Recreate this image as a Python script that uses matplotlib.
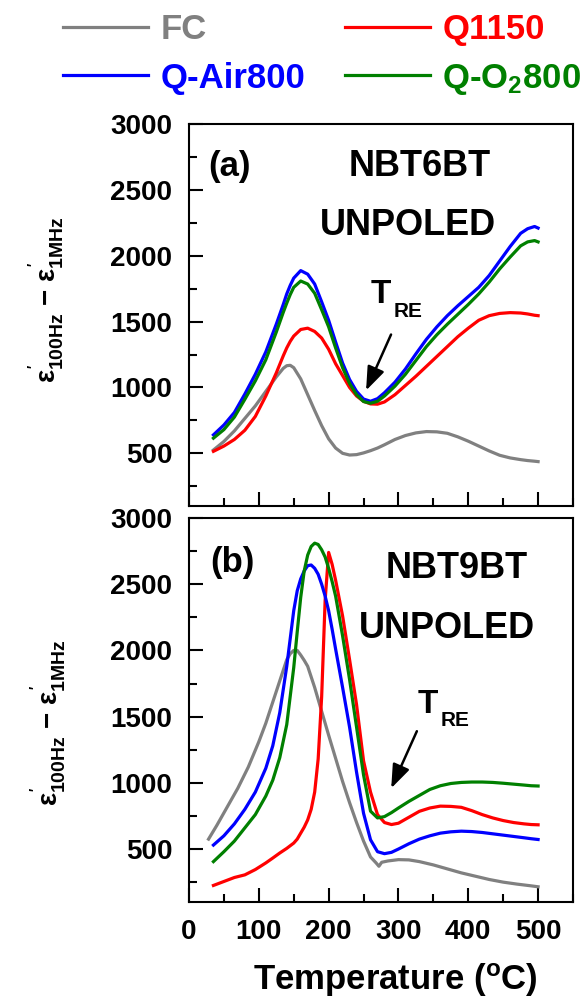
import matplotlib
matplotlib.use("Agg")
import matplotlib.pyplot as plt
from matplotlib.ticker import MultipleLocator

# (a) NBT6BT unpoled
temp_a = [35, 50, 65, 80, 95, 110, 125, 135, 140, 145, 150, 160, 170, 180, 190, 200,
          210, 220, 230, 240, 250, 260, 270, 280, 295, 310, 325, 340, 355, 370, 385,
          400, 415, 430, 445, 460, 475, 485, 495, 500]
fc_a = [525, 590, 670, 765, 860, 970, 1080, 1145, 1165, 1168, 1150, 1065, 945, 825, 710, 610,
        540, 500, 487, 490, 503, 520, 540, 565, 605, 635, 655, 665, 663, 652, 625,
        592, 555, 518, 485, 465, 452, 445, 440, 437]
q1150_a = [515, 555, 605, 675, 780, 935, 1110, 1240, 1300, 1350, 1390, 1440, 1450, 1425, 1375, 1290,
           1180, 1090, 1000, 935, 895, 875, 873, 890, 945, 1015, 1085, 1160, 1235, 1310, 1385,
           1450, 1510, 1545, 1562, 1568, 1565, 1558, 1548, 1545]
air_a = [640, 715, 810, 950, 1100, 1270, 1480, 1630, 1710, 1775, 1830, 1887, 1860, 1785, 1650, 1510,
         1345, 1185, 1060, 970, 912, 895, 915, 960, 1040, 1140, 1255, 1365, 1460, 1545, 1620,
         1690, 1760, 1850, 1960, 2070, 2170, 2205, 2222, 2210]
o2_a = [615, 680, 775, 910, 1050, 1210, 1420, 1570, 1640, 1705, 1760, 1808, 1785, 1715, 1590, 1460,
        1300, 1150, 1030, 945, 893, 880, 895, 935, 1010, 1100, 1205, 1310, 1400, 1480, 1555,
        1630, 1710, 1800, 1900, 1990, 2075, 2105, 2115, 2105]

# (b) NBT9BT unpoled
temp_fc_b = [28, 40, 55, 70, 85, 100, 110, 120, 130, 140, 145, 150, 155, 160, 165, 170, 180,
             190, 200, 210, 220, 230, 240, 250, 260, 268, 272, 276, 285, 300, 315, 330, 350,
             370, 390, 410, 430, 450, 470, 490, 500]
fc_b = [575, 680, 820, 960, 1120, 1310, 1450, 1610, 1770, 1930, 1975, 2000, 2000, 1965, 1925, 1880, 1720,
        1540, 1360, 1185, 1010, 850, 700, 560, 440, 395, 370, 400, 410, 420, 418, 405, 380,
        350, 320, 295, 270, 250, 235, 222, 215]
temp_b = [35, 50, 65, 80, 95, 110, 120, 130, 140, 150, 155, 160, 165, 170, 175, 180, 185, 190,
          195, 200, 205, 210, 220, 230, 240, 250, 260, 270, 280, 290, 300, 315, 330, 345, 360,
          375, 390, 405, 420, 435, 450, 465, 480, 490, 500]
q1150_b = [225, 255, 285, 305, 345, 395, 432, 470, 505, 545, 575, 620, 665, 720, 800, 930, 1180, 1650,
           2380, 2740, 2650, 2530, 2260, 1930, 1590, 1166, 930, 760, 700, 685, 695, 740, 785, 810, 824,
           822, 815, 790, 760, 735, 715, 700, 690, 685, 683]
air_b = [530, 600, 690, 800, 930, 1110, 1280, 1530, 1880, 2300, 2450, 2540, 2600, 2640, 2645, 2620, 2575, 2500,
         2410, 2300, 2160, 2010, 1720, 1420, 1080, 770, 570, 480, 465, 475, 500, 540, 575, 600, 620,
         630, 635, 632, 625, 615, 605, 595, 585, 578, 572]
o2_b = [405, 480, 560, 660, 760, 900, 1020, 1190, 1440, 1870, 2140, 2400, 2600, 2720, 2785, 2810, 2800, 2760,
        2705, 2620, 2520, 2410, 2110, 1780, 1420, 1060, 786, 735, 745, 775, 810, 860, 905, 950, 978,
        995, 1003, 1006, 1006, 1003, 997, 990, 983, 978, 976]

labels = ["FC", "Q1150", "Q-Air800", r"Q-O$_\mathbf{2}$800"]
colors = ["#808080", "#ff0000", "#0000ff", "#008000"]

plt.rcParams["font.family"] = "Liberation Sans"
plt.rcParams["font.weight"] = "bold"
plt.rcParams["mathtext.fontset"] = "custom"
plt.rcParams["mathtext.rm"] = "Liberation Sans"
plt.rcParams["mathtext.it"] = "Liberation Sans"
plt.rcParams["mathtext.bf"] = "Liberation Sans:bold"

fig = plt.figure(figsize=(5.82, 10.02), dpi=100)
ax1 = fig.add_axes([189 / 582, 1 - 506 / 1002, 384 / 582, 382 / 1002])
ax2 = fig.add_axes([189 / 582, 1 - 902 / 1002, 384 / 582, 384 / 1002])

lw = 2.3
lines = []
lines.append(ax1.plot(temp_a, fc_a, color=colors[0], lw=lw)[0])
lines.append(ax1.plot(temp_a, q1150_a, color=colors[1], lw=lw)[0])
lines.append(ax1.plot(temp_a, air_a, color=colors[2], lw=lw)[0])
lines.append(ax1.plot(temp_a, o2_a, color=colors[3], lw=lw)[0])

ax2.plot(temp_fc_b, fc_b, color=colors[0], lw=lw)
ax2.plot(temp_b, q1150_b, color=colors[1], lw=lw)
ax2.plot(temp_b, air_b, color=colors[2], lw=lw)
ax2.plot(temp_b, o2_b, color=colors[3], lw=lw)

for ax in (ax1, ax2):
    ax.set_xlim(0, 550)
    ax.set_ylim(100, 3000)
    ax.xaxis.set_major_locator(MultipleLocator(100))
    ax.xaxis.set_minor_locator(MultipleLocator(50))
    ax.yaxis.set_major_locator(MultipleLocator(500))
    ax.yaxis.set_minor_locator(MultipleLocator(250))
    ax.tick_params(which="both", direction="in", width=1.5, top=False, right=False)
    ax.tick_params(which="major", length=10, labelsize=20, pad=12)
    ax.tick_params(which="minor", length=5.5)
    for s in ax.spines.values():
        s.set_linewidth(1.5)
    for lab in ax.get_yticklabels() + ax.get_xticklabels():
        lab.set_fontweight("bold")
    ax.set_yticks([500, 1000, 1500, 2000, 2500, 3000])

ax1.tick_params(labelbottom=False)

ylab = r"$\varepsilon^{'}_{\mathbf{100Hz}}$ $\mathbf{-}$ $\varepsilon^{'}_{\mathbf{1MHz}}$"
fig.text(47 / 582, 1 - 300 / 1002, ylab, rotation=90, ha="center", va="center", fontsize=20)
fig.text(49 / 582, 1 - 723 / 1002, ylab, rotation=90, ha="center", va="center", fontsize=20)

ax2.set_xlabel(r"Temperature ($^\mathbf{o}$C)", fontsize=25, fontweight="bold")
ax2.xaxis.set_label_coords((395 - 189) / 384, (902 - 980) / 384)
ax2.xaxis.label.set_va("center")

# panel annotations
ax1.text(58, 2674, "(a)", fontsize=25, ha="center", va="center")
ax1.text(331, 2674, "NBT6BT", fontsize=26, ha="center", va="center")
ax1.text(314, 2233, "UNPOLED", fontsize=26, ha="center", va="center")
ax1.text(260, 1641, "T", fontsize=24, ha="left", va="baseline")
ax1.text(293, 1535, "RE", fontsize=15, ha="left", va="baseline")
ax1.annotate("", xy=(252, 958), xytext=(291, 1421),
             arrowprops=dict(arrowstyle="-|>,head_length=0.8,head_width=0.3",
                             color="black", lw=1.8, mutation_scale=18))

ax2.text(62, 2667, "(b)", fontsize=25, ha="center", va="center")
ax2.text(384, 2621, "NBT9BT", fontsize=26, ha="center", va="center")
ax2.text(370, 2167, "UNPOLED", fontsize=26, ha="center", va="center")
ax2.text(328, 1530, "T", fontsize=24, ha="left", va="baseline")
ax2.text(360, 1432, "RE", fontsize=15, ha="left", va="baseline")
ax2.annotate("", xy=(288, 940), xytext=(328, 1409),
             arrowprops=dict(arrowstyle="-|>,head_length=0.8,head_width=0.3",
                             color="black", lw=1.8, mutation_scale=18))

# legend: columns fill top-down, so order FC, Q-Air800 | Q1150, Q-O2800
order = [0, 2, 1, 3]
leg = fig.legend([lines[i] for i in order], [labels[i] for i in order],
                 loc="upper left", bbox_to_anchor=(63 / 582, 1 - 13 / 1002),
                 ncol=2, frameon=False, borderpad=0, borderaxespad=0,
                 handlelength=2.45, handletextpad=0.35, columnspacing=1.15,
                 labelspacing=0.45, labelcolor="linecolor",
                 prop={"size": 25, "weight": "bold"})
for h in leg.legend_handles:
    h.set_linewidth(2.3)

fig.savefig("out.png", dpi=100)
